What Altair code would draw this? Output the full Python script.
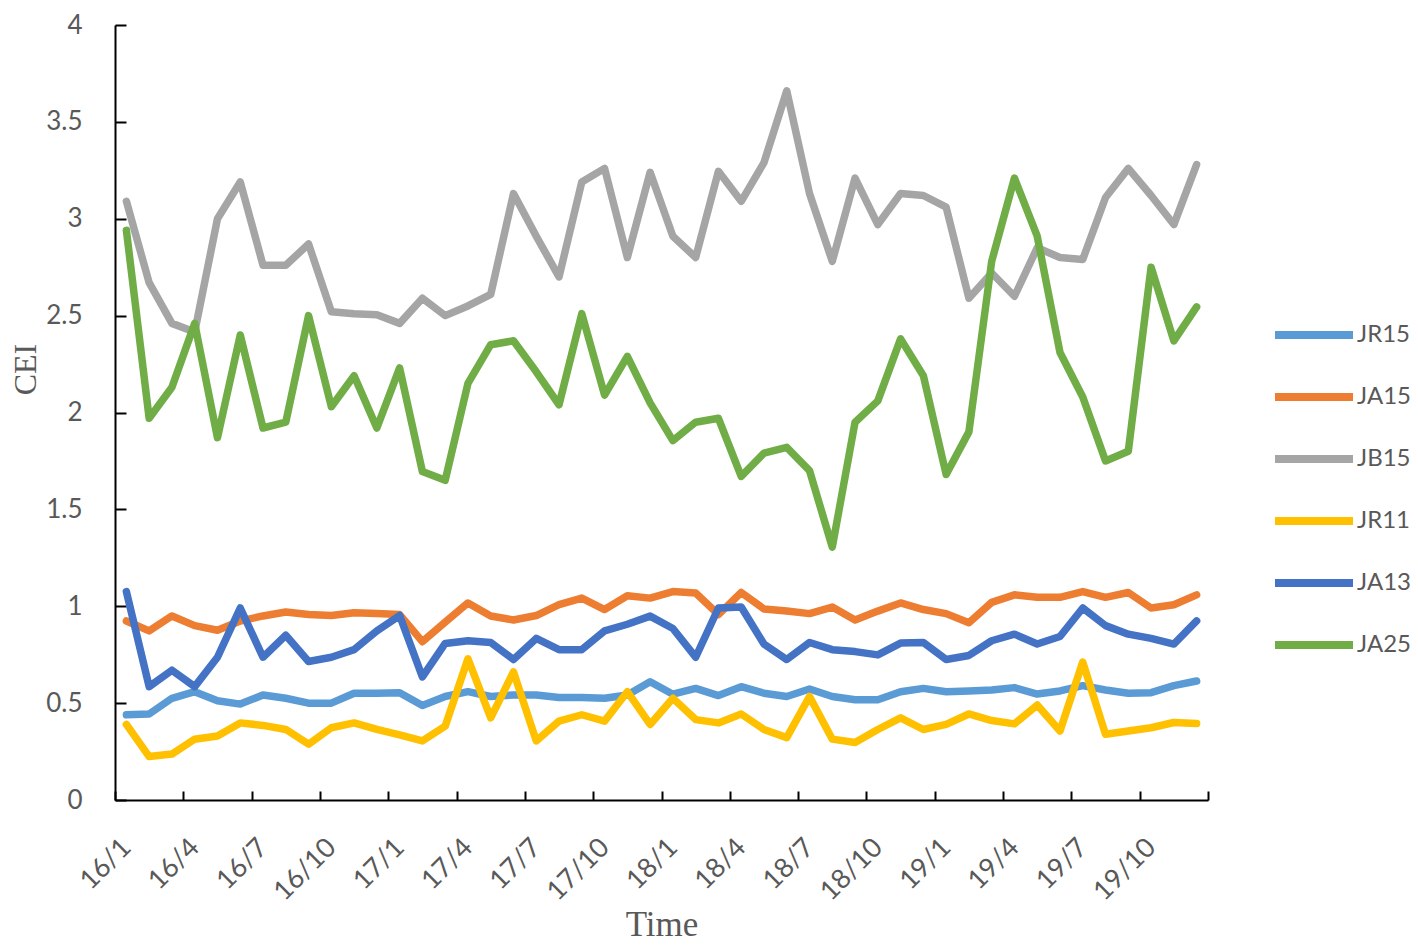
import json
import altair as alt
import pandas as pd

series_names = ["JR15", "JA15", "JB15", "JR11", "JA13", "JA25"]
series_colors = ["#5B9BD5", "#ED7D31", "#A5A5A5", "#FFC000", "#4472C4", "#70AD47"]
tick_labels = ["16/1", "16/4", "16/7", "16/10", "17/1", "17/4", "17/7", "17/10",
               "18/1", "18/4", "18/7", "18/10", "19/1", "19/4", "19/7", "19/10"]
y_ticks = [0, 0.5, 1, 1.5, 2, 2.5, 3, 3.5, 4]

JR15 = [0.44, 0.444, 0.525, 0.559, 0.512, 0.495, 0.542, 0.525, 0.50, 0.50, 0.551, 0.551,
        0.554, 0.488, 0.534, 0.559, 0.534, 0.542, 0.542, 0.529, 0.529, 0.525, 0.542, 0.61,
        0.546, 0.576, 0.539, 0.585, 0.551, 0.534, 0.573, 0.534, 0.517, 0.517, 0.559, 0.576,
        0.559, 0.563, 0.568, 0.58, 0.547, 0.563, 0.59, 0.568, 0.551, 0.554, 0.59, 0.614]
JA15 = [0.924, 0.873, 0.95, 0.90, 0.876, 0.924, 0.95, 0.97, 0.957, 0.952, 0.966, 0.962,
        0.957, 0.817, 0.918, 1.017, 0.95, 0.929, 0.952, 1.008, 1.042, 0.983, 1.054, 1.042,
        1.076, 1.068, 0.957, 1.071, 0.986, 0.975, 0.962, 0.996, 0.929, 0.975, 1.017, 0.983,
        0.962, 0.915, 1.02, 1.059, 1.046, 1.046, 1.076, 1.046, 1.071, 0.991, 1.008, 1.059]
JB15 = [3.09, 2.67, 2.46, 2.415, 3.0, 3.19, 2.76, 2.76, 2.87, 2.52, 2.51, 2.505,
        2.46, 2.59, 2.50, 2.55, 2.61, 3.13, 2.91, 2.70, 3.19, 3.26, 2.80, 3.24,
        2.91, 2.80, 3.245, 3.09, 3.29, 3.66, 3.13, 2.78, 3.21, 2.97, 3.13, 3.12,
        3.06, 2.59, 2.72, 2.60, 2.85, 2.80, 2.79, 3.11, 3.26, 3.12, 2.97, 3.28]
JR11 = [0.39, 0.224, 0.237, 0.314, 0.33, 0.398, 0.385, 0.364, 0.288, 0.373, 0.398, 0.364,
        0.336, 0.305, 0.381, 0.729, 0.424, 0.661, 0.305, 0.407, 0.44, 0.407, 0.559, 0.39,
        0.525, 0.415, 0.398, 0.444, 0.364, 0.322, 0.534, 0.314, 0.297, 0.364, 0.424, 0.364,
        0.39, 0.444, 0.41, 0.393, 0.49, 0.356, 0.712, 0.339, 0.356, 0.373, 0.40, 0.395]
JA13 = [1.076, 0.585, 0.67, 0.585, 0.737, 0.991, 0.737, 0.85, 0.715, 0.737, 0.776, 0.873,
        0.952, 0.635, 0.808, 0.822, 0.813, 0.725, 0.834, 0.776, 0.776, 0.873, 0.907, 0.949,
        0.885, 0.737, 0.991, 0.996, 0.805, 0.725, 0.813, 0.776, 0.766, 0.749, 0.81, 0.813,
        0.725, 0.746, 0.822, 0.856, 0.805, 0.844, 0.991, 0.90, 0.856, 0.834, 0.805, 0.924]
JA25 = [2.94, 1.97, 2.13, 2.46, 1.87, 2.40, 1.92, 1.95, 2.50, 2.03, 2.19, 1.92,
        2.23, 1.695, 1.65, 2.15, 2.35, 2.37, 2.21, 2.04, 2.51, 2.09, 2.29, 2.05,
        1.855, 1.95, 1.97, 1.67, 1.79, 1.82, 1.70, 1.305, 1.95, 2.06, 2.38, 2.19,
        1.68, 1.90, 2.78, 3.21, 2.91, 2.31, 2.08, 1.75, 1.80, 2.75, 2.37, 2.545]

values_by_series = {"JR15": JR15, "JA15": JA15, "JB15": JB15,
                    "JR11": JR11, "JA13": JA13, "JA25": JA25}

rows = []
for name in series_names:
    for i, v in enumerate(values_by_series[name]):
        rows.append({"idx": i, "series": name, "CEI": v})
df = pd.DataFrame(rows)

n = len(JR15)
W, H = 1093, 775
label_font = "Lato"
text_color = "#595959"

xscale = alt.Scale(domain=[-0.5, n - 0.5], nice=False, zero=False)
yscale = alt.Scale(domain=[0, 4], nice=False, zero=True)

label_expr = json.dumps(tick_labels) + "[round(datum.value / 3)]"

lines = alt.Chart(df).mark_line(
    strokeWidth=7.5, strokeCap="round", strokeJoin="round"
).encode(
    x=alt.X("idx:Q", scale=xscale, axis=alt.Axis(
        orient="bottom", values=list(range(0, n, 3)), labelExpr=label_expr,
        ticks=False, domain=True, domainColor="black", domainWidth=2, grid=False,
        labelAngle=-45, labelAlign="right", labelBaseline="middle", labelPadding=43,
        labelFont=label_font, labelFontSize=27, labelColor=text_color,
        labelOverlap=False, labelFlush=False,
        title="Time", titleFont="Liberation Serif", titleFontSize=35,
        titleFontWeight="normal", titleColor=text_color,
        titleBaseline="alphabetic", titleY=135)),
    y=alt.Y("CEI:Q", scale=yscale, axis=alt.Axis(
        orient="left", values=y_ticks, format="~g", ticks=False, domain=True,
        domainColor="black", domainWidth=2, grid=False,
        labelPadding=33, labelFont=label_font, labelFontSize=26, labelColor=text_color,
        labelFlush=False, labelOverlap=False,
        title="CEI", titleFont="Liberation Serif", titleFontSize=32,
        titleFontWeight="normal", titleColor=text_color,
        titleX=-90, titleY=344, titleBaseline="middle")),
    color=alt.Color("series:N", scale=alt.Scale(domain=series_names, range=series_colors),
                    legend=alt.Legend(
                        title=None, orient="none", legendX=1156, legendY=267,
                        symbolType="stroke", symbolSize=6084, symbolStrokeWidth=8,
                        labelFont=label_font, labelFontSize=24, labelColor=text_color,
                        labelOffset=0, rowPadding=3, padding=0)),
)

tick_layer = alt.Chart(df).mark_line(opacity=0).encode(
    x=alt.X("idx:Q", scale=xscale, axis=alt.Axis(
        orient="top", offset=-H, values=[k - 0.5 for k in range(0, n + 1, 3)],
        labels=False, domain=False, ticks=True, tickSize=9, tickWidth=2,
        tickColor="black", grid=False, title="")),
    y=alt.Y("CEI:Q", scale=yscale, axis=alt.Axis(
        orient="right", offset=-W, values=y_ticks,
        labels=False, domain=False, ticks=True, tickSize=11, tickWidth=2,
        tickColor="black", grid=False, title="")),
)

chart = alt.layer(lines, tick_layer).resolve_axis(
    x="independent", y="independent"
).properties(
    width=W, height=H,
    autosize=alt.AutoSizeParams(type="none"),
    padding={"left": 107, "top": 17, "right": 202, "bottom": 144},
    background="white",
).configure_view(strokeWidth=0)

chart.save("out.html", embed_options={"renderer": "svg", "actions": False})
